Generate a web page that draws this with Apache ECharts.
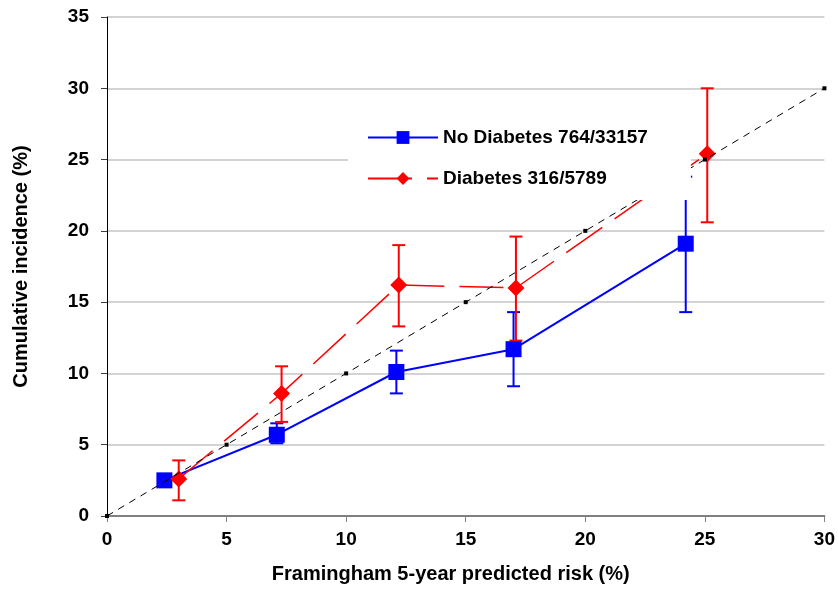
<!DOCTYPE html>
<html>
<head>
<meta charset="utf-8">
<script src="https://cdn.jsdelivr.net/npm/echarts@6/dist/echarts.min.js"></script>
<style>
  html, body { margin: 0; padding: 0; background: #fff; }
  #chart { width: 838px; height: 590px; }
</style>
</head>
<body>
<div id="chart"></div>
<script>
// Observed cumulative incidence vs Framingham predicted 5-year risk, by diabetes status
const riskNoDiab = [2.4, 7.1, 12.1, 17.0, 24.2];
const incNoDiab  = [2.5, 5.7, 10.1, 11.7, 19.1];
const lowNoDiab  = [2.2, 5.1, 8.6, 9.1, 14.3];
const highNoDiab = [2.8, 6.5, 11.6, 14.3, 23.8];

const riskDiab = [3.0, 7.3, 12.2, 17.1, 25.1];
const incDiab  = [2.6, 8.6, 16.2, 16.0, 25.4];
const lowDiab  = [1.1, 6.6, 13.3, 12.3, 20.6];
const highDiab = [3.9, 10.5, 19.0, 19.6, 30.0];

// Line of perfect calibration (observed = predicted)
const identity = [0, 5, 10, 15, 20, 25, 30];

const nameNoDiab = 'No Diabetes 764/33157';
const nameDiab = 'Diabetes 316/5789';

const FONT = '"Liberation Sans", Arial, sans-serif';

function pairs(xs, ys) { return xs.map((x, i) => [x, ys[i]]); }
function errRows(xs, lo, hi) { return xs.map((x, i) => [x, lo[i], hi[i]]); }

function errorBars(color) {
  return function (params, api) {
    const x = api.value(0);
    const lo = api.coord([x, api.value(1)]);
    const hi = api.coord([x, api.value(2)]);
    const half = 6.5;
    const style = { stroke: color, lineWidth: 2 };
    return {
      type: 'group',
      children: [
        { type: 'line', shape: { x1: lo[0], y1: lo[1], x2: hi[0], y2: hi[1] }, style },
        { type: 'line', shape: { x1: hi[0] - half, y1: hi[1], x2: hi[0] + half, y2: hi[1] }, style },
        { type: 'line', shape: { x1: lo[0] - half, y1: lo[1], x2: lo[0] + half, y2: lo[1] }, style }
      ]
    };
  };
}

const chart = echarts.init(document.getElementById('chart'), null, { renderer: 'canvas' });

chart.setOption({
  animation: false,
  backgroundColor: '#ffffff',
  grid: { left: 107, right: 12, top: 17, bottom: 74 },
  xAxis: {
    type: 'value',
    min: 0, max: 30, interval: 5,
    name: 'Framingham 5-year predicted risk (%)',
    nameLocation: 'middle',
    nameGap: 48,
    nameTextStyle: { fontFamily: FONT, fontWeight: 'bold', fontSize: 20, color: '#000', padding: [0, 30, 0, 0] },
    axisLine: { show: true, lineStyle: { color: '#808080', width: 2 } },
    axisTick: { show: true, inside: false, length: 6, lineStyle: { color: '#808080', width: 1 } },
    axisLabel: { margin: 14, fontFamily: FONT, fontWeight: 'bold', fontSize: 19, color: '#000' },
    splitLine: { show: false }
  },
  yAxis: {
    type: 'value',
    min: 0, max: 35, interval: 5,
    name: 'Cumulative incidence (%)',
    nameLocation: 'middle',
    nameGap: 76,
    nameTextStyle: { fontFamily: FONT, fontWeight: 'bold', fontSize: 20, color: '#000' },
    axisLine: { show: true, lineStyle: { color: '#000', width: 1 } },
    axisTick: { show: true, inside: false, length: 6, lineStyle: { color: '#404040', width: 1 } },
    axisLabel: { margin: 18, fontFamily: FONT, fontWeight: 'bold', fontSize: 19, color: '#000' },
    splitLine: { show: true, lineStyle: { color: '#c4c4c4', width: 1.5 } }
  },
  legend: {
    data: [nameNoDiab, nameDiab],
    orient: 'vertical',
    left: 348,
    top: 100,
    padding: [28, 43, 12, 19],
    itemGap: 22,
    itemWidth: 70,
    itemHeight: 16,
    backgroundColor: '#ffffff',
    textStyle: { fontFamily: FONT, fontWeight: 'bold', fontSize: 19, color: '#000' },
    z: 10
  },
  series: [
    {
      type: 'line',
      name: 'identity',
      data: pairs(identity, identity),
      symbol: 'rect',
      symbolSize: 4,
      itemStyle: { color: '#000' },
      lineStyle: { color: '#000', width: 1, type: [7, 6] },
      z: 4,
      silent: true
    },
    {
      type: 'custom',
      name: 'noDiabErr',
      renderItem: errorBars('#0000ff'),
      data: errRows(riskNoDiab, lowNoDiab, highNoDiab),
      encode: { x: 0, y: [1, 2] },
      z: 2
    },
    {
      type: 'line',
      name: nameNoDiab,
      data: pairs(riskNoDiab, incNoDiab),
      symbol: 'rect',
      symbolSize: 16,
      itemStyle: { color: '#0000ff' },
      lineStyle: { color: '#0000ff', width: 2 },
      z: 3
    },
    {
      type: 'custom',
      name: 'diabErr',
      renderItem: errorBars('#ff0000'),
      data: errRows(riskDiab, lowDiab, highDiab),
      encode: { x: 0, y: [1, 2] },
      z: 3
    },
    {
      type: 'line',
      name: nameDiab,
      data: pairs(riskDiab, incDiab),
      symbol: 'diamond',
      symbolSize: [17, 17],
      itemStyle: { color: '#ff0000' },
      lineStyle: { color: '#ff0000', width: 1.5, type: [44, 15] },
      z: 3
    }
  ]
});
</script>
</body>
</html>
